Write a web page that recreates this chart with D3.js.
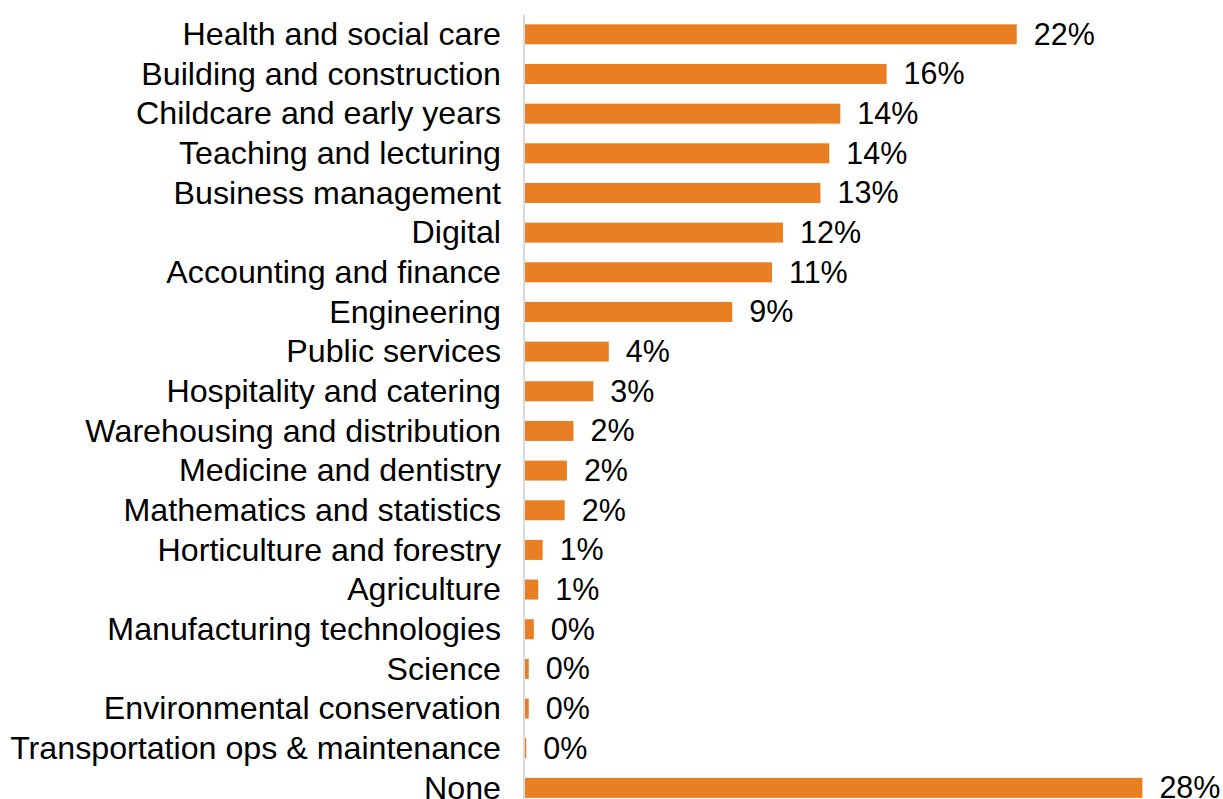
<!DOCTYPE html>
<html>
<head>
<meta charset="utf-8">
<script src="https://cdn.jsdelivr.net/npm/d3@7/dist/d3.min.js"></script>
<style>
  html, body { margin: 0; padding: 0; background: #fff; }
  svg { display: block; }
  text { font-family: "Liberation Sans", Arial, sans-serif; fill: #000; }
</style>
</head>
<body>
<div id="chart"></div>
<script>
const categories = [
  "Health and social care",
  "Building and construction",
  "Childcare and early years",
  "Teaching and lecturing",
  "Business management",
  "Digital",
  "Accounting and finance",
  "Engineering",
  "Public services",
  "Hospitality and catering",
  "Warehousing and distribution",
  "Medicine and dentistry",
  "Mathematics and statistics",
  "Horticulture and forestry",
  "Agriculture",
  "Manufacturing technologies",
  "Science",
  "Environmental conservation",
  "Transportation ops & maintenance",
  "None"
];
const values = [22.3, 16.4, 14.3, 13.8, 13.4, 11.7, 11.2, 9.4, 3.8, 3.1, 2.2, 1.9, 1.8, 0.8, 0.6, 0.4, 0.17, 0.17, 0.06, 28.0];
const labels = ["22%", "16%", "14%", "14%", "13%", "12%", "11%", "9%", "4%", "3%", "2%", "2%", "2%", "1%", "1%", "0%", "0%", "0%", "0%", "28%"];

const W = 1223, H = 799;
const data = categories.map((c, i) => ({ cat: c, val: values[i], label: labels[i] }));

const svg = d3.select("#chart").append("svg")
  .attr("width", W).attr("height", H);

svg.append("rect").attr("width", W).attr("height", H).attr("fill", "#fff");

const x = d3.scaleLinear().domain([0, 30]).range([525, 525 + 30 * 22.05]);
const step = 39.66;
const pin = 1 - 20 / step;
const y = d3.scaleBand().domain(categories)
  .range([14.5, 14.5 + categories.length * step])
  .paddingInner(pin).paddingOuter(pin / 2);

// bars
svg.append("g").selectAll("rect").data(data).join("rect")
  .attr("x", x(0))
  .attr("y", d => y(d.cat))
  .attr("width", d => x(d.val) - x(0))
  .attr("height", y.bandwidth())
  .attr("fill", "#E97F22");

// category axis
const yAxis = d3.axisLeft(y).tickSize(0).tickPadding(23);
const ag = svg.append("g").attr("transform", `translate(${x(0) - 1},0)`).call(yAxis);
ag.select(".domain").attr("stroke", "#d9d9d9").attr("stroke-width", 2)
  .attr("d", `M0,${y.range()[0]}V${y.range()[1]}`);
ag.selectAll(".tick text")
  .attr("font-size", "32.2px")
  .attr("font-family", '"Liberation Sans", Arial, sans-serif')
  .attr("fill", "#000")
  .attr("dy", "0.33em");

// value labels
svg.append("g").selectAll("text").data(data).join("text")
  .attr("x", d => x(d.val) + 17)
  .attr("y", d => y(d.cat) + y.bandwidth() / 2)
  .attr("dy", "0.34em")
  .attr("font-size", "30.5px")
  .text(d => d.label);
</script>
</body>
</html>
